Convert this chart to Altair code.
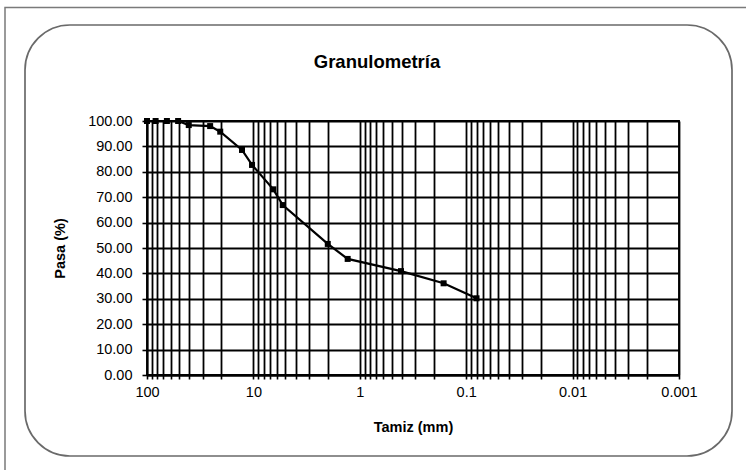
import altair as alt
import pandas as pd

# Sieve opening (mm) and cumulative percent passing
tamiz = [100, 83, 65, 51, 40.5, 25.5, 20.5, 12.8, 10.3, 6.5, 5.3, 2.0, 1.3, 0.41, 0.163, 0.08]
pasa = [100.0, 100.0, 100.0, 100.0, 98.4, 98.0, 95.8, 88.6, 82.7, 73.1, 66.9, 51.6, 45.7, 40.9, 36.1, 30.2]

# Axis setup
decades = [100, 10, 1, 0.1, 0.01, 0.001]
y_ticks = [0.0, 10.0, 20.0, 30.0, 40.0, 50.0, 60.0, 70.0, 80.0, 90.0, 100.0]
x_grid = sorted({round(m * d, 6) for d in [10, 1, 0.1, 0.01, 0.001] for m in range(1, 10)} | {100})

FONT = "Liberation Sans"
W, H = 532, 254            # plot area
PAD_L, PAD_T = 147, 121    # plot origin inside the 746x470 canvas

df = pd.DataFrame({"tamiz": tamiz, "pasa": pasa})
one = pd.DataFrame({"k": [0]})

# outer page frame and rounded chart box
frame = alt.Chart(one).mark_rect(fill=None, stroke="#7a7a7a", strokeWidth=1.5).encode(
    x=alt.value(5 - PAD_L), x2=alt.value(900), y=alt.value(7.5 - PAD_T), y2=alt.value(700)
)
box = alt.Chart(one).mark_rect(
    fill=None, stroke="#6a6a6a", strokeWidth=1.7, cornerRadius=45
).encode(
    x=alt.value(25 - PAD_L), x2=alt.value(732 - PAD_L),
    y=alt.value(25 - PAD_T), y2=alt.value(456 - PAD_T)
)
title = alt.Chart(one).mark_text(
    text="Granulometría", font=FONT, fontSize=18.5, fontWeight="bold",
    align="center", baseline="middle", color="black"
).encode(x=alt.value(377 - PAD_L), y=alt.value(62 - PAD_T))

x_enc = alt.X(
    "tamiz:Q",
    scale=alt.Scale(type="log", domain=[0.001, 100], reverse=True, nice=False),
    axis=alt.Axis(
        title="Tamiz (mm)", values=x_grid, format="~g",
        labelExpr="indexof([100, 10, 1, 0.1, 0.01, 0.001], datum.value) >= 0 ? datum.label : ''",
        labelFontSize=14.5, labelPadding=6, tickSize=4, labelFlush=False,
        labelOverlap=False, titleFontSize=14.5, titlePadding=22,
    ),
)
y_enc = alt.Y(
    "pasa:Q",
    scale=alt.Scale(domain=[0, 100], nice=False, zero=True),
    axis=alt.Axis(
        title="Pasa (%)", values=y_ticks, format=".2f",
        labelFontSize=14.5, labelPadding=10, tickSize=5, labelOverlap=False,
        titleFontSize=14.5, titlePadding=20,
    ),
)

curve = alt.Chart(df).mark_line(
    color="black", strokeWidth=2.2,
    point=alt.OverlayMarkDef(shape="square", filled=True, color="black", size=36, opacity=1),
).encode(x=x_enc, y=y_enc)

chart = alt.layer(frame, box, title, curve).properties(
    width=W, height=H,
    autosize=alt.AutoSizeParams(type="none"),
    padding={"left": PAD_L, "top": PAD_T, "right": 746 - PAD_L - W, "bottom": 470 - PAD_T - H},
    background="white",
).configure_view(
    stroke="black", strokeWidth=1.8
).configure_axis(
    grid=True, gridColor="#000000", gridWidth=1.8, gridOpacity=1,
    domainColor="black", domainWidth=1.8, tickColor="black", tickWidth=1.6,
    labelColor="black", titleColor="black", labelFont=FONT, titleFont=FONT,
    titleFontWeight="bold",
)

chart.save("out.html", embed_options={"renderer": "svg", "actions": False})
